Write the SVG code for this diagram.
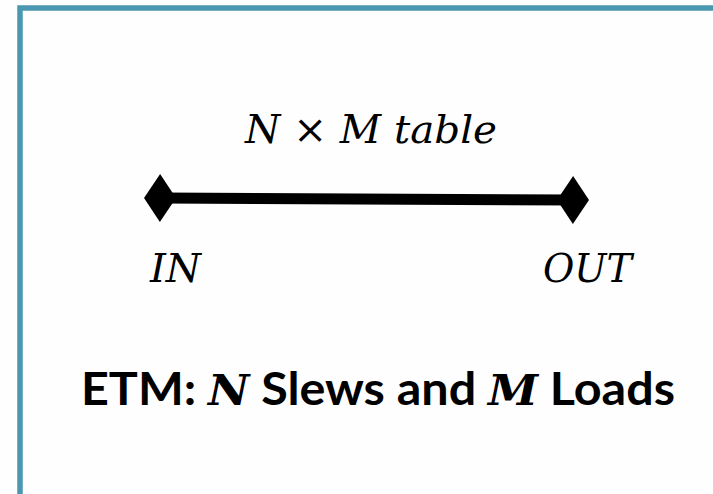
<svg xmlns="http://www.w3.org/2000/svg" width="713" height="494" viewBox="0 0 713 494">
  <style>
    .math { font-family: "DejaVu Serif", "Liberation Serif", serif; font-style: italic; font-size: 40px; fill: #000; }
    .title { font-family: Lato, "Liberation Sans", Arial, sans-serif; font-weight: bold; font-size: 45px; fill: #000; }
    .title .var { font-family: "DejaVu Serif", "Liberation Serif", serif; font-style: italic; font-weight: bold; font-size: 42px; }
  </style>
  <defs>
    <marker id="diamond" viewBox="0 0 32 48" refX="16" refY="24" markerWidth="32" markerHeight="48" markerUnits="userSpaceOnUse" orient="auto">
      <polygon points="0,24 16,0 32,24 16,48" fill="#000"/>
    </marker>
  </defs>
  <rect width="713" height="494" fill="#fefefe"/>
  <!-- frame, open on the right and bottom -->
  <path d="M20,494 V8 H713" fill="none" stroke="#4a97b1" stroke-width="5.5"/>

  <g id="connectors">
    <line x1="160" y1="198" x2="573" y2="200" stroke="#000" stroke-width="11" marker-start="url(#diamond)" marker-end="url(#diamond)"/>
  </g>

  <g id="table-label">
    <text class="math" x="245" y="143" textLength="252" lengthAdjust="spacingAndGlyphs">N × M table</text>
  </g>
  <g id="in-node">
    <text class="math" x="150" y="282" textLength="51" lengthAdjust="spacingAndGlyphs">IN</text>
  </g>
  <g id="out-node">
    <text class="math" x="543" y="282" textLength="89" lengthAdjust="spacingAndGlyphs">OUT</text>
  </g>
  <g id="caption">
    <text class="title" x="81" y="405" textLength="594" lengthAdjust="spacingAndGlyphs">ETM: <tspan class="var">N</tspan> Slews and <tspan class="var">M</tspan> Loads</text>
  </g>
</svg>
